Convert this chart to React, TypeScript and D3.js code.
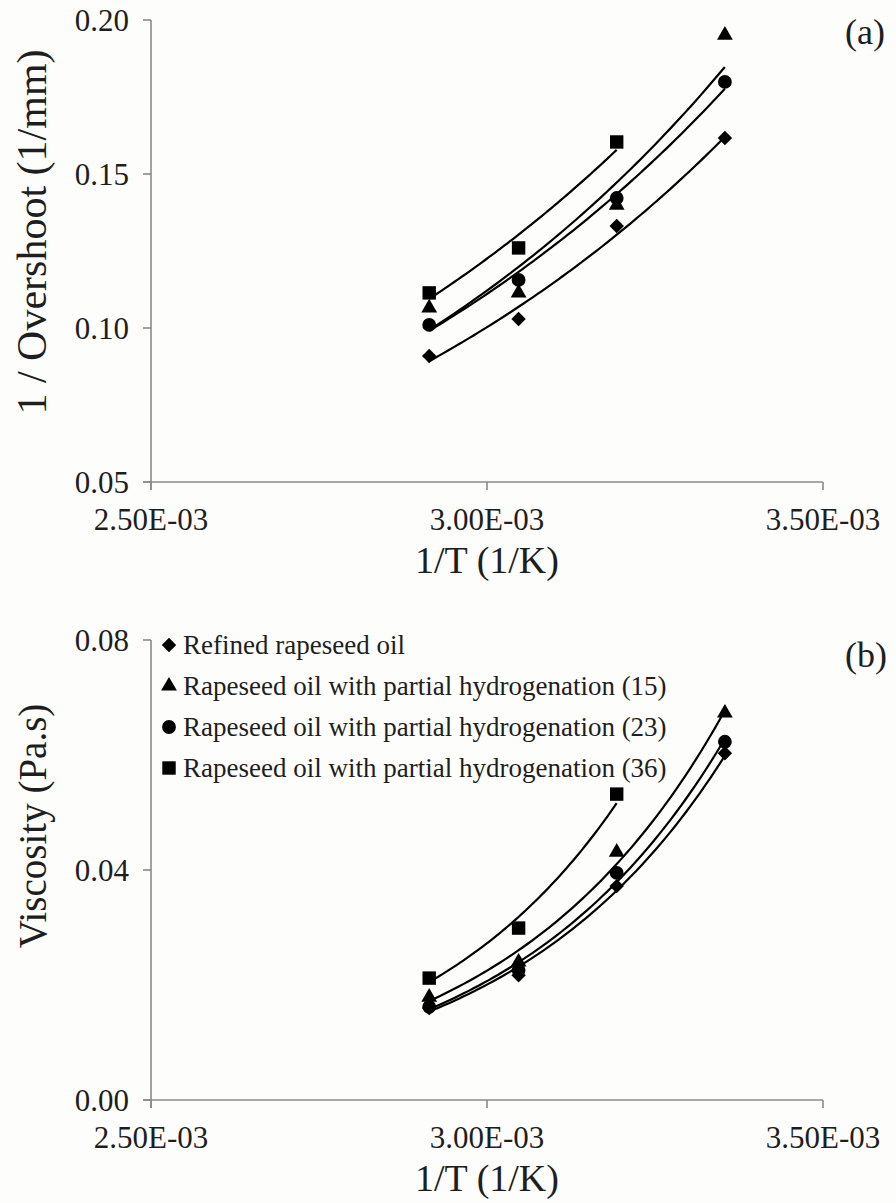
import React from 'react';
import * as d3 from 'd3';

// 1/T at 70, 55, 40, 25 °C
const invTemp = [2.914e-3, 3.047e-3, 3.193e-3, 3.354e-3];

const seriesNames = [
  'Refined rapeseed oil',
  'Rapeseed oil with partial hydrogenation (15)',
  'Rapeseed oil with partial hydrogenation (23)',
  'Rapeseed oil with partial hydrogenation (36)',
];
const seriesShapes = ['diamond', 'triangle', 'circle', 'square'];

// panel (a): 1 / overshoot (1/mm)
const overshootRefined = [0.0909, 0.1029, 0.1331, 0.1617];
const overshootH15 = [0.1065, 0.1114, 0.1399, 0.1951];
const overshootH23 = [0.101, 0.1156, 0.1422, 0.1799];
const overshootH36 = [0.1114, 0.126, 0.1604];

// panel (b): viscosity (Pa.s)
const viscRefined = [0.016, 0.0217, 0.0372, 0.0603];
const viscH15 = [0.0179, 0.024, 0.0431, 0.0673];
const viscH23 = [0.0162, 0.0226, 0.0395, 0.0623];
const viscH36 = [0.0212, 0.0299, 0.0532];

const xTicks = [2.5e-3, 3.0e-3, 3.5e-3];
const xTickLabels = ['2.50E-03', '3.00E-03', '3.50E-03'];
const overshootTicks = [0.05, 0.1, 0.15, 0.2];
const overshootTickLabels = ['0.05', '0.10', '0.15', '0.20'];
const viscTicks = [0, 0.04, 0.08];
const viscTickLabels = ['0.00', '0.04', '0.08'];

const FONT = '"Liberation Serif", "Times New Roman", serif';
const AXIS = '#8a8a8a';
const INK = '#1e1e1e';

// excel-style exponential trendline, least squares on ln(y)
function expFit(xs: number[], ys: number[]) {
  const ly = ys.map(Math.log);
  const mx = d3.mean(xs)!;
  const my = d3.mean(ly)!;
  const b = d3.sum(xs, (x, i) => (x - mx) * (ly[i] - my)) / d3.sum(xs, (x) => (x - mx) ** 2);
  const a = Math.exp(my - b * mx);
  return (x: number) => a * Math.exp(b * x);
}

const symbolFor: Record<string, { type: d3.SymbolType; size: number; rotate: number }> = {
  diamond: { type: d3.symbolSquare, size: 104, rotate: 45 },
  triangle: { type: d3.symbolTriangle, size: 108, rotate: 0 },
  circle: { type: d3.symbolCircle, size: 150, rotate: 0 },
  square: { type: d3.symbolSquare, size: 180, rotate: 0 },
};

function Marker({ shape, x, y }: { shape: string; x: number; y: number }) {
  const s = symbolFor[shape];
  const d = d3.symbol().type(s.type).size(s.size)()!;
  return <path d={d} transform={`translate(${x},${y}) rotate(${s.rotate})`} fill="#000" />;
}

function Panel({
  values, top, bottom, yDomain, yTicks, yTickLabels, yTitle, yTitleY, yTitleSize, label, labelY, legend,
}: {
  values: number[][]; top: number; bottom: number; yDomain: [number, number];
  yTicks: number[]; yTickLabels: string[]; yTitle: string; yTitleY: number; yTitleSize: number;
  label: string; labelY: number; legend?: boolean;
}) {
  const x = d3.scaleLinear().domain([2.5e-3, 3.5e-3]).range([151, 823]);
  const y = d3.scaleLinear().domain(yDomain).range([bottom, top]);
  const left = x.range()[0];
  const right = x.range()[1];

  return (
    <g>
      {/* axes */}
      <line x1={left} x2={left} y1={top} y2={bottom + 8} stroke={AXIS} strokeWidth={1.6} />
      <line x1={left - 8} x2={right} y1={bottom} y2={bottom} stroke={AXIS} strokeWidth={1.6} />
      {yTicks.map((t, i) => (
        <g key={`yt${i}`}>
          <line x1={left - 8} x2={left} y1={y(t)} y2={y(t)} stroke={AXIS} strokeWidth={1.6} />
          <text x={left - 22} y={y(t) + 10.5} textAnchor="end" fontSize={31} fontFamily={FONT} fill={INK}>
            {yTickLabels[i]}
          </text>
        </g>
      ))}
      {xTicks.map((t, i) => (
        <g key={`xt${i}`}>
          <line x1={x(t)} x2={x(t)} y1={bottom} y2={bottom + 8} stroke={AXIS} strokeWidth={1.6} />
          <text x={x(t)} y={bottom + 48} textAnchor="middle" fontSize={31} fontFamily={FONT} fill={INK}>
            {xTickLabels[i]}
          </text>
        </g>
      ))}
      <text x={(left + right) / 2} y={bottom + 91} textAnchor="middle" fontSize={38} fontFamily={FONT} fill={INK}>
        1/T (1/K)
      </text>
      <text
        transform={`translate(46,${yTitleY}) rotate(-90)`}
        textAnchor="middle" fontSize={yTitleSize} fontFamily={FONT} fill={INK}
      >
        {yTitle}
      </text>
      <text x={845} y={labelY} fontSize={36} fontFamily={FONT} fill={INK}>{label}</text>

      {/* trendlines */}
      {values.map((ys, si) => {
        const xs = invTemp.slice(0, ys.length);
        const f = expFit(xs, ys);
        const pts = d3.range(0, 61).map((k) => xs[0] + ((xs[xs.length - 1] - xs[0]) * k) / 60);
        const line = d3.line<number>().x((v) => x(v)).y((v) => y(f(v)));
        return <path key={`fit${si}`} d={line(pts)!} fill="none" stroke="#000" strokeWidth={2.2} />;
      })}
      {/* points */}
      {values.map((ys, si) =>
        ys.map((v, i) => <Marker key={`p${si}-${i}`} shape={seriesShapes[si]} x={x(invTemp[i])} y={y(v)} />)
      )}

      {legend &&
        seriesNames.map((name, i) => (
          <g key={`lg${i}`}>
            <Marker shape={seriesShapes[i]} x={169} y={top + 5 + i * 41} />
            <text x={183} y={top + 14 + i * 41} fontSize={27} fontFamily={FONT} fill={INK}>{name}</text>
          </g>
        ))}
    </g>
  );
}

export default function App() {
  return (
    <div style={{ position: 'absolute', left: 0, top: 0, width: 896, height: 1203, background: '#fff' }}>
      <svg width={896} height={1203} viewBox="0 0 896 1203">
        <rect width={896} height={1203} fill="#fdfdfb" />
        <Panel
          values={[overshootRefined, overshootH15, overshootH23, overshootH36]}
          top={20} bottom={482} yDomain={[0.05, 0.2]}
          yTicks={overshootTicks} yTickLabels={overshootTickLabels}
          yTitle="1 / Overshoot (1/mm)" yTitleY={232} yTitleSize={42}
          label="(a)" labelY={44}
        />
        <Panel
          values={[viscRefined, viscH15, viscH23, viscH36]}
          top={640} bottom={1100} yDomain={[0, 0.08]}
          yTicks={viscTicks} yTickLabels={viscTickLabels}
          yTitle="Viscosity (Pa.s)" yTitleY={826} yTitleSize={39}
          label="(b)" labelY={667} legend
        />
      </svg>
    </div>
  );
}
